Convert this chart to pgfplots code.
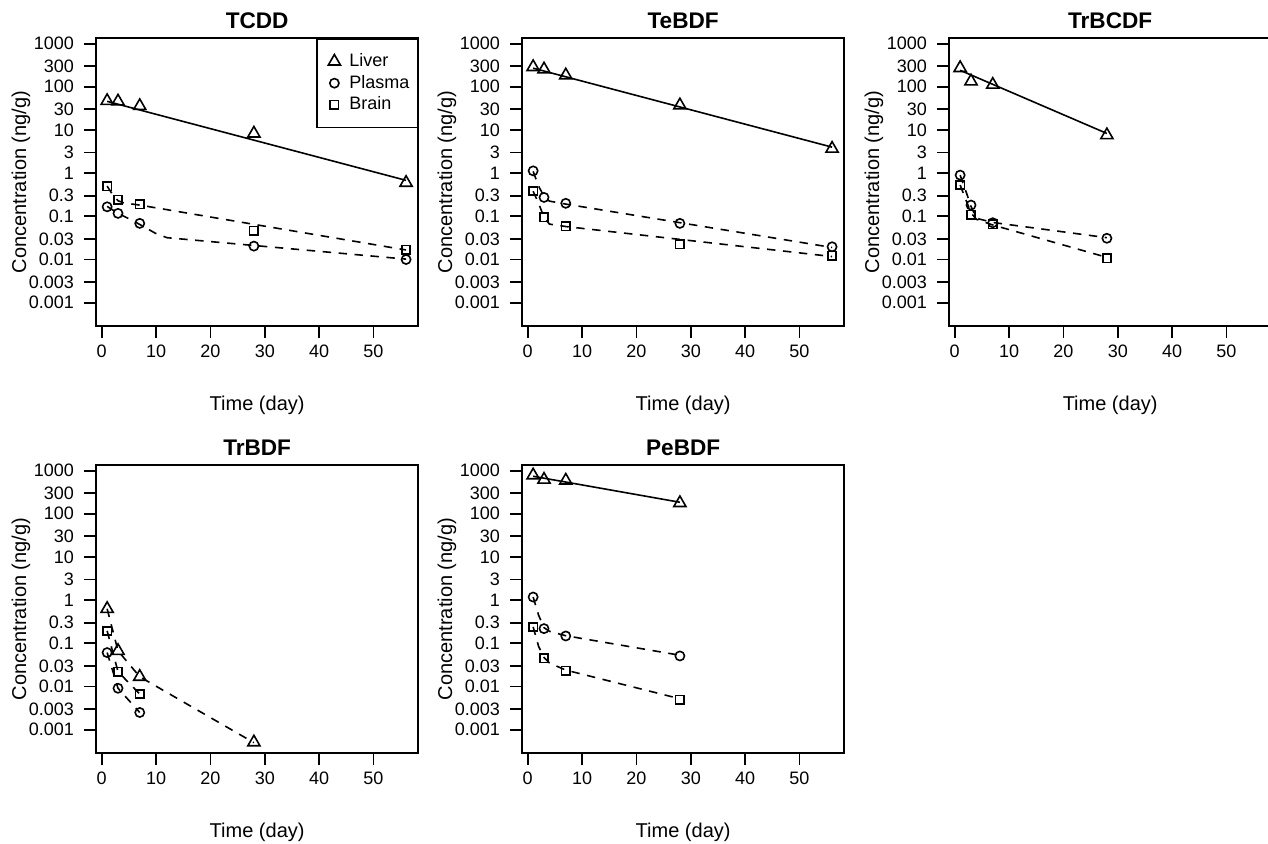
\documentclass[border=0pt]{standalone}
\usepackage{fontspec}
\setmainfont{Liberation Sans}
\usepackage{pgfplots}
\pgfplotsset{compat=1.18}

\pgfplotsset{
  rpanel/.style={
    scale only axis, width=161.15pt, height=144pt, anchor=south west,
    xmin=-1.05, xmax=58.25, ymin=2.88e-4, ymax=1349,
    xtick={0,10,20,30,40,50}, xticklabels={0,10,20,30,40,50},
    ytick={0.001,0.003,0.01,0.03,0.1,0.3,1,3,10,30,100,300,1000},
    yticklabels={0.001,0.003,0.01,0.03,0.1,0.3,1,3,10,30,100,300,1000},
    yminorticks=false,
    tick align=outside, tick pos=left, major tick length=6pt,
    axis line style={line width=0.9pt},
    every tick/.style={black,line width=0.9pt},
    tick label style={font=\fontsize{9}{10}\selectfont},
    yticklabel style={xshift=-1.5pt},
    label style={font=\fontsize{9}{10}\selectfont},
    every axis title/.style={font=\fontsize{11.3}{12}\selectfont\bfseries,
      at={(axis description cs:0.5,1)},anchor=base,yshift=4.6pt},
    xlabel={Time (day)}, ylabel={Concentration (ng/g)},
    every axis x label/.style={at={(axis description cs:0.5,-0.274)},anchor=center},
    every axis y label/.style={at={(axis description cs:-0.233,0.5)},anchor=center,rotate=90},
  },
  liver/.style={only marks,mark=triangle,mark size=3.5pt,mark options={solid,line width=0.8pt}},
  plasma/.style={only marks,mark=o,mark size=2.3pt,mark options={solid,line width=0.8pt}},
  brain/.style={only marks,mark=square,mark size=2.1pt,mark options={solid,line width=0.8pt}},
  solidfit/.style={no marks,black,line width=0.8pt},
  dashfit/.style={no marks,black,line width=0.8pt,dash pattern=on 4.2pt off 3.8pt},
}

\begin{document}
\begin{tikzpicture}
\useasboundingbox (0pt,0pt) rectangle (634pt,421.5pt);

% TCDD
\begin{axis}[rpanel, ymode=log, at={(48pt,258.5pt)}, title={TCDD},
  legend style={at={(1,1)},anchor=north east,draw=black,line width=0.9pt,
    font=\fontsize{9}{10}\selectfont,inner xsep=2pt,inner ysep=5.3pt,row sep=-1.2pt},
  legend cell align=left,
  legend image code/.code={\path[draw=none,fill=none] (-6.5pt,0pt) -- (5.5pt,0pt); \draw[#1] plot coordinates {(0pt,0pt)};}]
\addplot[liver] coordinates {(1,47)(3,46)(7,36)(28,8.3)(56,0.6)};
\addlegendentry{Liver}
\addplot[plasma] coordinates {(1,0.166)(3,0.117)(7,0.0686)(28,0.0204)(56,0.0100)};
\addlegendentry{Plasma}
\addplot[brain] coordinates {(1,0.50)(3,0.245)(7,0.19)(28,0.046)(56,0.017)};
\addlegendentry{Brain}
\addplot[solidfit,forget plot] coordinates {(1,46)(56,0.68)};
\addplot[dashfit,forget plot] coordinates {(1,0.17)(3,0.117)(5.5,0.082)(7.7,0.058)(9.8,0.041)(12,0.032)(56,0.0102)};
\addplot[dashfit,forget plot] coordinates {(1,0.5)(2,0.32)(3,0.23)(4,0.205)(7,0.182)(56,0.0166)};
\end{axis}

% TeBDF
\begin{axis}[rpanel, ymode=log, at={(261pt,258.5pt)}, title={TeBDF}]
\addplot[liver] coordinates {(1,288)(3,254)(7,185)(28,37.4)(56,3.7)};
\addplot[plasma] coordinates {(1,1.13)(3,0.274)(7,0.2)(28,0.0686)(56,0.0197)};
\addplot[brain] coordinates {(1,0.384)(3,0.094)(7,0.059)(28,0.0227)(56,0.0122)};
\addplot[solidfit] coordinates {(1,270)(56,4.0)};
\addplot[dashfit] coordinates {(1,1.1)(2,0.5)(3,0.29)(4,0.225)(7,0.192)(56,0.019)};
\addplot[dashfit] coordinates {(1,0.38)(2,0.2)(3,0.095)(4,0.066)(7,0.058)(56,0.0117)};
\end{axis}

% TrBCDF
\begin{axis}[rpanel, ymode=log, at={(474.5pt,258.5pt)}, title={TrBCDF}]
\addplot[liver] coordinates {(1,273)(3,134)(7,112)(28,7.6)};
\addplot[plasma] coordinates {(1,0.9)(3,0.182)(7,0.071)(28,0.031)};
\addplot[brain] coordinates {(1,0.53)(3,0.11)(7,0.066)(28,0.0106)};
\addplot[solidfit] coordinates {(1,241)(28,8.3)};
\addplot[dashfit] coordinates {(1,0.9)(2,0.4)(3,0.17)(4,0.09)(7,0.072)(28,0.032)};
\addplot[dashfit] coordinates {(1,0.53)(2,0.25)(3,0.12)(4,0.085)(7,0.063)(28,0.0112)};
\end{axis}

% TrBDF
\begin{axis}[rpanel, ymode=log, at={(48pt,45pt)}, title={TrBDF}]
\addplot[liver] coordinates {(1,0.63)(3,0.067)(7,0.0168)(28,0.00051)};
\addplot[plasma] coordinates {(1,0.061)(3,0.0091)(7,0.0025)};
\addplot[brain] coordinates {(1,0.194)(3,0.022)(7,0.0067)};
\addplot[dashfit] coordinates {(1,0.63)(3,0.067)(7,0.0168)(28,0.0005)};
\addplot[dashfit] coordinates {(1,0.061)(3,0.0091)(7,0.0025)};
\addplot[dashfit] coordinates {(1,0.194)(3,0.022)(7,0.0067)};
\end{axis}

% PeBDF
\begin{axis}[rpanel, ymode=log, at={(261pt,45pt)}, title={PeBDF}]
\addplot[liver] coordinates {(1,780)(3,620)(7,590)(28,178)};
\addplot[plasma] coordinates {(1,1.18)(3,0.219)(7,0.148)(28,0.051)};
\addplot[brain] coordinates {(1,0.24)(3,0.0453)(7,0.023)(28,0.0049)};
\addplot[solidfit] coordinates {(1,740)(28,185)};
\addplot[dashfit] coordinates {(1,1.18)(2,0.45)(3,0.23)(4,0.19)(7,0.15)(28,0.053)};
\addplot[dashfit] coordinates {(1,0.24)(2,0.085)(3,0.047)(4,0.035)(7,0.024)(28,0.0052)};
\end{axis}
\end{tikzpicture}
\end{document}
